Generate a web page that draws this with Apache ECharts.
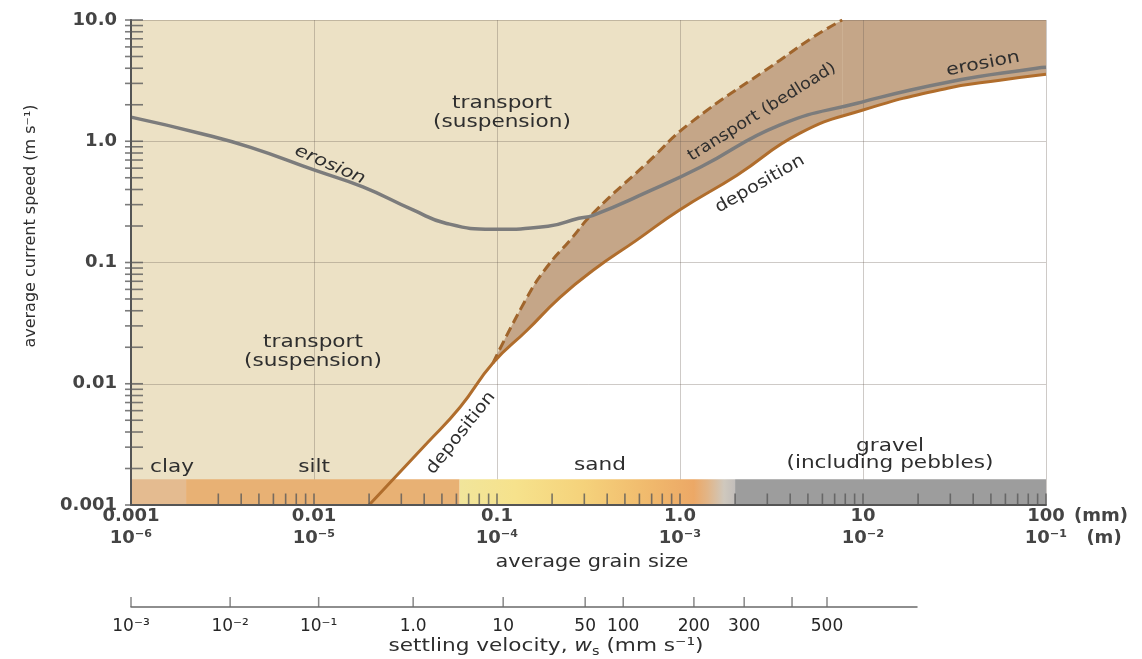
<!DOCTYPE html>
<html><head><meta charset="utf-8">
<script src="https://cdn.jsdelivr.net/npm/echarts@6/dist/echarts.min.js"></script>
<style>html,body{margin:0;padding:0;background:#fff}#c{width:1142px;height:659px}</style>
</head><body><div id="c"></div>
<script>
// ---------------- data ----------------
const grainTickMM = ['0.001', '0.01', '0.1', '1.0', '10', '100'];
const grainTickM = ['10⁻⁶', '10⁻⁵', '10⁻⁴', '10⁻³', '10⁻²', '10⁻¹'];
const speedTickLabels = ['0.001', '0.01', '0.1', '1.0', '10.0'];

// erosion threshold (grey curve): grain size (mm) / current speed (m/s)
const erosionGrain = [0.001, 0.0024, 0.0045, 0.01, 0.0185, 0.035, 0.053, 0.095, 0.19, 0.28, 0.335, 0.66, 1.29, 3.5, 9.3, 29, 89, 100];
const erosionSpeed = [1.58, 1.16, 0.89, 0.58, 0.42, 0.27, 0.21, 0.188, 0.199, 0.232, 0.245, 0.38, 0.61, 1.36, 2.06, 3.07, 4.0, 4.07];

// deposition threshold (solid brown curve)
const depositionGrain = [0.02, 0.0414, 0.0628, 0.095, 0.146, 0.221, 0.335, 0.58, 0.99, 2.05, 4.5, 9.9, 29, 56, 100];
const depositionSpeed = [0.001, 0.00323, 0.0064, 0.0148, 0.0276, 0.0516, 0.0863, 0.153, 0.27, 0.525, 1.16, 1.80, 2.74, 3.19, 3.57];

// suspension / bedload boundary (dashed curve)
const bedloadGrain = [0.095, 0.146, 0.187, 0.251, 0.335, 0.66, 1.135, 3.52, 5.33, 7.7];
const bedloadSpeed = [0.0148, 0.0516, 0.0914, 0.153, 0.255, 0.66, 1.41, 4.66, 7.2, 10];

// grain classes (mm)
const classNames = ['clay', 'silt', 'sand', 'gravel'];
const classBounds = [0.001, 0.002, 0.0625, 2, 100];

// settling velocity scale: labels and the grain size (mm) each one sits under
const settlingLabels = ['10⁻³', '10⁻²', '10⁻¹', '1.0', '10', '50', '100', '200', '300', '', '500'];
const settlingGrain = [0.001, 0.00348, 0.0106, 0.0348, 0.108, 0.303, 0.489, 1.19, 2.24, 4.09, 6.35];

const decades = [0.001, 0.01, 0.1, 1, 10];
const minorSteps = [1, 2, 3, 4, 5, 6, 7, 8, 9];

// ---------------- build ----------------
const grainMin = 0.001, grainMax = 100, speedMin = 0.001, speedMax = 10;
const zip = (a, b) => a.map((v, i) => [v, b[i]]);
const erosion = zip(erosionGrain, erosionSpeed);
const deposition = zip(depositionGrain, depositionSpeed);
const bedload = zip(bedloadGrain, bedloadSpeed);

const yTicks = [];
decades.slice(0, 4).forEach(d => minorSteps.forEach(k => yTicks.push(+(k * d).toPrecision(6))));
yTicks.push(speedMax);
const xTicks = [];
decades.forEach(d => minorSteps.forEach(k => {
  const v = +(k * d).toPrecision(6);
  if (v !== grainMin && v !== classBounds[1]) xTicks.push(v);
}));
xTicks.push(grainMax);

const FONT = 'DejaVu Sans';
const TXT = '#2e2e2e';
const BEIGE = '#ece1c5', BROWN = '#c5a688';
const gridLine = { show: true, lineStyle: { color: 'rgba(105,95,85,0.33)', width: 1 } };
const decIdx = v => Math.round(Math.log10(v));
const barTop = 0.00163;
const SMOOTH = 0.5;

const sandGrad = new echarts.graphic.LinearGradient(0, 0, 1, 0, [
  { offset: 0, color: '#f1e59b' }, { offset: 0.2, color: '#f6e28c' },
  { offset: 0.45, color: '#f5d27b' }, { offset: 0.7, color: '#f0b86c' },
  { offset: 0.85, color: '#eca866' }, { offset: 0.9, color: '#e2b587' },
  { offset: 0.96, color: '#cfc8bd' }, { offset: 1, color: '#c2bebb' }
]);
const classColors = ['#e4bb90', '#e8b174', sandGrad, '#9d9d9d'];

function txt(text, x, y, o) {
  o = o || {};
  return {
    type: 'text', x: x, y: y, z: 50, silent: true,
    rotation: o.rot || 0, scaleX: o.sx || 1.2, scaleY: 1,
    style: Object.assign({
      text: text, fill: TXT, fontFamily: FONT, fontSize: o.size || 18,
      fontWeight: o.weight || 'normal', fontStyle: o.style || 'normal',
      align: 'center', verticalAlign: 'middle', lineHeight: o.lh || 19
    }, o.extra || {})
  };
}

const chart = echarts.init(document.getElementById('c'), null, { renderer: 'canvas' });
chart.setOption({
  animation: false,
  backgroundColor: '#ffffff',
  grid: [
    { left: 131, right: 96, top: 20, bottom: 154, show: true, backgroundColor: BEIGE, borderWidth: 0, containLabel: false, outerBoundsMode: 'none' },
    { left: 131, right: 225, top: 597, height: 10, show: false, containLabel: false, outerBoundsMode: 'none' }
  ],
  xAxis: [
    { gridIndex: 0, type: 'log', logBase: 10, min: grainMin, max: grainMax, position: 'bottom', z: 1.5,
      axisLine: { show: false }, axisTick: { show: false }, axisLabel: { show: false }, splitLine: gridLine },
    { gridIndex: 0, type: 'log', logBase: 10, min: grainMin, max: grainMax, position: 'bottom', z: 3,
      axisLine: { show: true, onZero: false, lineStyle: { color: '#555', width: 2 } },
      axisTick: { show: false }, splitLine: { show: false },
      axisLabel: { margin: 0, fontFamily: FONT, fontSize: 18, fontWeight: 'bold', color: '#444', lineHeight: 22,
        formatter: v => { const i = decIdx(v) + 3; return grainTickMM[i] + '\n' + grainTickM[i]; } } },
    { gridIndex: 1, type: 'log', logBase: 10, min: grainMin, max: 19.7, position: 'bottom', z: 3,
      axisLine: { show: true, onZero: false, lineStyle: { color: '#6a6a6a', width: 1.5 } },
      axisTick: { show: false }, axisLabel: { show: false }, splitLine: { show: false } }
  ],
  yAxis: [
    { gridIndex: 0, type: 'log', logBase: 10, min: speedMin, max: speedMax, position: 'left', z: 1.5,
      axisLine: { show: false }, axisTick: { show: false }, axisLabel: { show: false }, splitLine: gridLine },
    { gridIndex: 0, type: 'log', logBase: 10, min: speedMin, max: speedMax, position: 'left', z: 3,
      axisLine: { show: true, onZero: false, lineStyle: { color: '#555', width: 2 } },
      axisTick: { show: false }, splitLine: { show: false },
      axisLabel: { margin: 14, fontFamily: FONT, fontSize: 18, fontWeight: 'bold', color: '#444',
        formatter: v => speedTickLabels[decIdx(v) + 3] } },
    { gridIndex: 1, type: 'value', min: 0, max: 1, show: false }
  ],
  series: [
    // bedload band (brown) under the dashed boundary
    { type: 'line', xAxisIndex: 0, yAxisIndex: 0, z: 1, data: bedload, smooth: SMOOTH,
      symbol: 'none', lineStyle: { width: 0 }, areaStyle: { color: BROWN, opacity: 1, origin: 'start' },
      markArea: { silent: true, z: 1, itemStyle: { color: BROWN }, data: [[
        { coord: [bedloadGrain[bedloadGrain.length - 1], speedMin] }, { coord: [grainMax, speedMax] }]] } },
    // deposition region (white) under the deposition curve
    { type: 'line', xAxisIndex: 0, yAxisIndex: 0, z: 1.1, data: deposition, smooth: SMOOTH,
      symbol: 'none', lineStyle: { width: 0 }, areaStyle: { color: '#ffffff', opacity: 1, origin: 'start' } },
    // grain-size class bar
    { type: 'line', xAxisIndex: 0, yAxisIndex: 0, z: 1.8, data: [[grainMin, speedMin]], symbol: 'none', lineStyle: { width: 0 },
      markArea: { silent: true, z: 1.8, data: classNames.map((n, i) => [
        { coord: [classBounds[i], speedMin], itemStyle: { color: classColors[i] } },
        { coord: [classBounds[i + 1], barTop] }]) } },
    // curves
    { type: 'line', name: 'bedload boundary', xAxisIndex: 0, yAxisIndex: 0, z: 2, data: bedload, smooth: SMOOTH,
      symbol: 'none', lineStyle: { color: '#a0652c', width: 3, type: [10, 5] } },
    { type: 'line', name: 'deposition', xAxisIndex: 0, yAxisIndex: 0, z: 2.1, data: deposition, smooth: SMOOTH,
      symbol: 'none', lineStyle: { color: '#b06d2c', width: 3 } },
    { type: 'line', name: 'erosion', xAxisIndex: 0, yAxisIndex: 0, z: 2.2, data: erosion, smooth: SMOOTH,
      symbol: 'none', lineStyle: { color: '#7c7c7c', width: 3.5 } },
    // y-axis ticks
    { type: 'scatter', xAxisIndex: 0, yAxisIndex: 0, z: 4, clip: false, silent: true,
      data: yTicks.map(v => [grainMin, v]), symbol: 'rect', symbolSize: [18, 1.6], symbolOffset: [3, 0],
      itemStyle: { color: '#5a5a5a' } },
    // grain-size ticks inside the class bar
    { type: 'scatter', xAxisIndex: 0, yAxisIndex: 0, z: 4, clip: false, silent: true,
      data: xTicks.map(v => [v, speedMin]), symbol: 'rect', symbolSize: [1.6, 11], symbolOffset: [0, -6],
      itemStyle: { color: '#5a5a5a' } },
    // settling velocity ticks and labels
    { type: 'scatter', xAxisIndex: 2, yAxisIndex: 2, z: 4, clip: false, silent: true,
      data: settlingGrain.map(g => [g, 0]), symbol: 'rect', symbolSize: [1.5, 10], symbolOffset: [0, -5],
      itemStyle: { color: '#6a6a6a' },
      label: { show: true, position: 'bottom', distance: 6, fontFamily: FONT, fontSize: 17, color: '#262626',
        opacity: 1, offset: [0, 5], formatter: p => settlingLabels[p.dataIndex] } }
  ],
  graphic: [
    txt('transport\n(suspension)', 502, 113, { lh: 19 }),
    txt('transport\n(suspension)', 313, 352, { lh: 19 }),
    txt('erosion', 330, 165, { rot: -0.41, style: 'italic', size: 17 }),
    txt('erosion', 983, 64, { rot: 0.19, size: 17 }),
    txt('transport (bedload)', 762, 112, { rot: 0.56, size: 16, sx: 1.1 }),
    txt('deposition', 760, 184, { rot: 0.52, size: 17, sx: 1.13 }),
    txt('deposition', 461, 433, { rot: 0.9, size: 17, sx: 1.13 }),
    txt(classNames[0], 172, 467),
    txt(classNames[1], 314, 467),
    txt(classNames[2], 600, 465),
    txt(classNames[3] + '\n(including pebbles)', 890, 455, { lh: 17 }),
    txt('(mm)', 1101, 516, { size: 18, weight: 'bold', sx: 1.0, extra: { fill: '#444' } }),
    txt('(m)', 1104, 538, { size: 18, weight: 'bold', sx: 1.0, extra: { fill: '#444' } }),
    txt('average grain size', 592, 562, { sx: 1.16 }),
    txt('average current speed (m s⁻¹)', 31, 226, { rot: Math.PI / 2, size: 16, sx: 1.0 }),
    txt('settling velocity, {i|w}{s|s} (mm s⁻¹)', 546, 646, { size: 18, lh: 24,
      extra: { rich: { i: { fontStyle: 'italic', fontSize: 18, fontFamily: FONT, fill: TXT, lineHeight: 24 },
                       s: { fontSize: 12, fontFamily: FONT, fill: TXT, verticalAlign: 'bottom', lineHeight: 24 } } } })
  ]
});
</script></body></html>
